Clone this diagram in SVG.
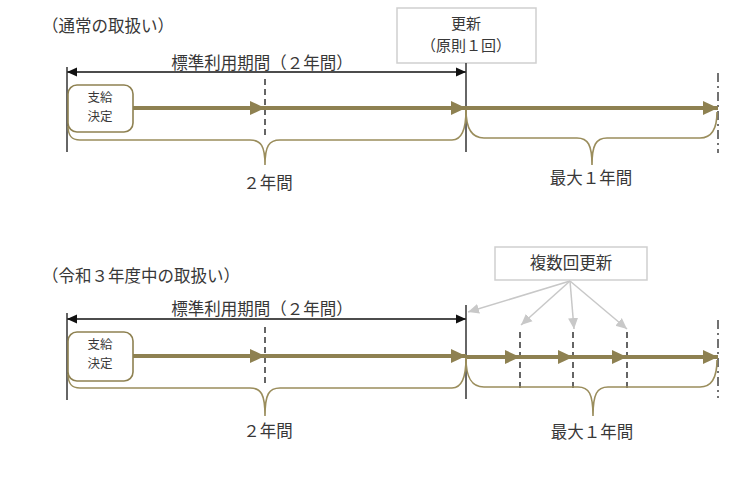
<svg xmlns="http://www.w3.org/2000/svg" width="755" height="490" viewBox="0 0 755 490">
<style>
text{font-family:"Noto Sans CJK JP","Noto Sans",sans-serif;fill:#383838}
.t16{font-size:16.5px}
.t15{font-size:15px}
.t14{font-size:12.5px}
.mid{text-anchor:middle}
.main{stroke:#8E8151;stroke-width:4;fill:none}
.brace{stroke:#9A8D5C;stroke-width:1.6;fill:none}
.box{fill:#fff;stroke:#8E8151;stroke-width:1.6}
.gbox{fill:#fff;stroke:#cfcfcf;stroke-width:1.5}
.dim{stroke:#111;stroke-width:1.3;fill:none}
.vline{stroke:#333;stroke-width:1.5;fill:none}
.dash{stroke:#333;stroke-width:1.5;stroke-dasharray:6,4;fill:none}
.dashdot{stroke:#444;stroke-width:1.5;stroke-dasharray:9,4,2,4;fill:none}
.gray{stroke:#c8c8c8;stroke-width:1.5;fill:none}
</style>
<defs>
<marker id="oh" markerUnits="userSpaceOnUse" markerWidth="16" markerHeight="16" viewBox="0 0 16 16" refX="15" refY="8" orient="auto">
<path d="M0,1 L15,8 L0,15 Z" fill="#8E8151"/>
</marker>
<marker id="bh" markerUnits="userSpaceOnUse" markerWidth="10" markerHeight="10" viewBox="0 0 10 10" refX="10" refY="5" orient="auto-start-reverse">
<path d="M0,0.5 L10,5 L0,9.5 Z" fill="#111"/>
</marker>
<marker id="gh" markerUnits="userSpaceOnUse" markerWidth="12" markerHeight="12" viewBox="0 0 12 12" refX="11" refY="6" orient="auto">
<path d="M0,1 L11,6 L0,11 Z" fill="#c8c8c8"/>
</marker>
</defs>

<!-- Top section -->
<g id="title-top"><text class="t16" x="42" y="32">（通常の取扱い）</text></g>
<g id="label-std-top"><text class="t16 mid" x="262" y="69">標準利用期間（２年間）</text></g>
<g id="update-box-top">
<rect class="gbox" x="397" y="8" width="139" height="55"/>
<text class="t15 mid" x="466" y="29">更新<tspan x="466" dy="22">（原則１回）</tspan></text>
</g>
<g id="connectors-top">
<line class="dim" x1="67" y1="72" x2="466" y2="72" marker-start="url(#bh)" marker-end="url(#bh)"/>
<line class="vline" x1="67" y1="67" x2="67" y2="152"/>
<line class="vline" x1="466" y1="63" x2="466" y2="152"/>
<line class="dash" x1="265" y1="79" x2="265" y2="136"/>
<line class="dashdot" x1="718" y1="73" x2="718" y2="153"/>
<line class="main" x1="133" y1="108" x2="265" y2="108" marker-end="url(#oh)"/>
<line class="main" x1="265" y1="108" x2="466" y2="108" marker-end="url(#oh)"/>
<line class="main" x1="466" y1="108" x2="718" y2="108" marker-end="url(#oh)"/>
<path class="brace" d="M68,126 C68,135 71,140 80,140 L250,140 C261,140 265,146 265,165 C265,146 269,140 280,140 L452,140 C462,140 466,130 466,110"/>
<path class="brace" d="M466,110 C466,128 471,138 484,138 L577,138 C588,138 592,145 592,165 C592,145 596,138 607,138 L700,138 C712,138 717,128 717,112"/>
</g>
<g id="box-top">
<rect class="box" x="68" y="85" width="65" height="47" rx="9"/>
<text class="t14 mid" x="100" y="102">支給<tspan x="100" dy="18.5">決定</tspan></text>
</g>
<g id="label-2y-top"><text class="t16 mid" x="268" y="189">２年間</text></g>
<g id="label-1y-top"><text class="t16 mid" x="591" y="184">最大１年間</text></g>

<!-- Bottom section -->
<g id="title-bottom"><text class="t16" x="42" y="282">（令和３年度中の取扱い）</text></g>
<g id="label-std-bottom"><text class="t16 mid" x="262" y="315">標準利用期間（２年間）</text></g>
<g id="update-box-bottom">
<rect class="gbox" x="495" y="247" width="152" height="33"/>
<text class="t16 mid" x="571" y="269">複数回更新</text>
</g>
<g id="connectors-bottom">
<line class="dim" x1="67" y1="319" x2="466" y2="319" marker-start="url(#bh)" marker-end="url(#bh)"/>
<line class="vline" x1="67" y1="313" x2="67" y2="400"/>
<line class="vline" x1="466" y1="305" x2="466" y2="399"/>
<line class="dash" x1="265" y1="327" x2="265" y2="384"/>
<line class="dash" x1="520" y1="332" x2="520" y2="388"/>
<line class="dash" x1="573" y1="332" x2="573" y2="388"/>
<line class="dash" x1="627" y1="332" x2="627" y2="388"/>
<line class="dashdot" x1="718" y1="320" x2="718" y2="398"/>
<line class="main" x1="133" y1="356" x2="265" y2="356" marker-end="url(#oh)"/>
<line class="main" x1="265" y1="356" x2="466" y2="356" marker-end="url(#oh)"/>
<line class="main" x1="466" y1="357" x2="520" y2="357" marker-end="url(#oh)"/>
<line class="main" x1="520" y1="357" x2="573" y2="357" marker-end="url(#oh)"/>
<line class="main" x1="573" y1="357" x2="627" y2="357" marker-end="url(#oh)"/>
<line class="main" x1="627" y1="357" x2="718" y2="357" marker-end="url(#oh)"/>
<line class="gray" x1="570" y1="281" x2="468" y2="312" marker-end="url(#gh)"/>
<line class="gray" x1="570" y1="281" x2="521" y2="325" marker-end="url(#gh)"/>
<line class="gray" x1="570" y1="281" x2="574" y2="329" marker-end="url(#gh)"/>
<line class="gray" x1="570" y1="281" x2="627" y2="329" marker-end="url(#gh)"/>
<path class="brace" d="M68,374 C68,383 71,388 80,388 L250,388 C261,388 265,394 265,416 C265,394 269,388 280,388 L452,388 C462,388 466,378 466,358"/>
<path class="brace" d="M466,358 C466,377 471,387 484,387 L578,387 C589,387 593,394 593,416 C593,394 597,387 608,387 L700,387 C712,387 717,377 717,360"/>
</g>
<g id="box-bottom">
<rect class="box" x="68" y="332" width="65" height="49" rx="9"/>
<text class="t14 mid" x="100" y="349">支給<tspan x="100" dy="18.5">決定</tspan></text>
</g>
<g id="label-2y-bottom"><text class="t16 mid" x="268" y="437">２年間</text></g>
<g id="label-1y-bottom"><text class="t16 mid" x="592" y="438">最大１年間</text></g>
</svg>
